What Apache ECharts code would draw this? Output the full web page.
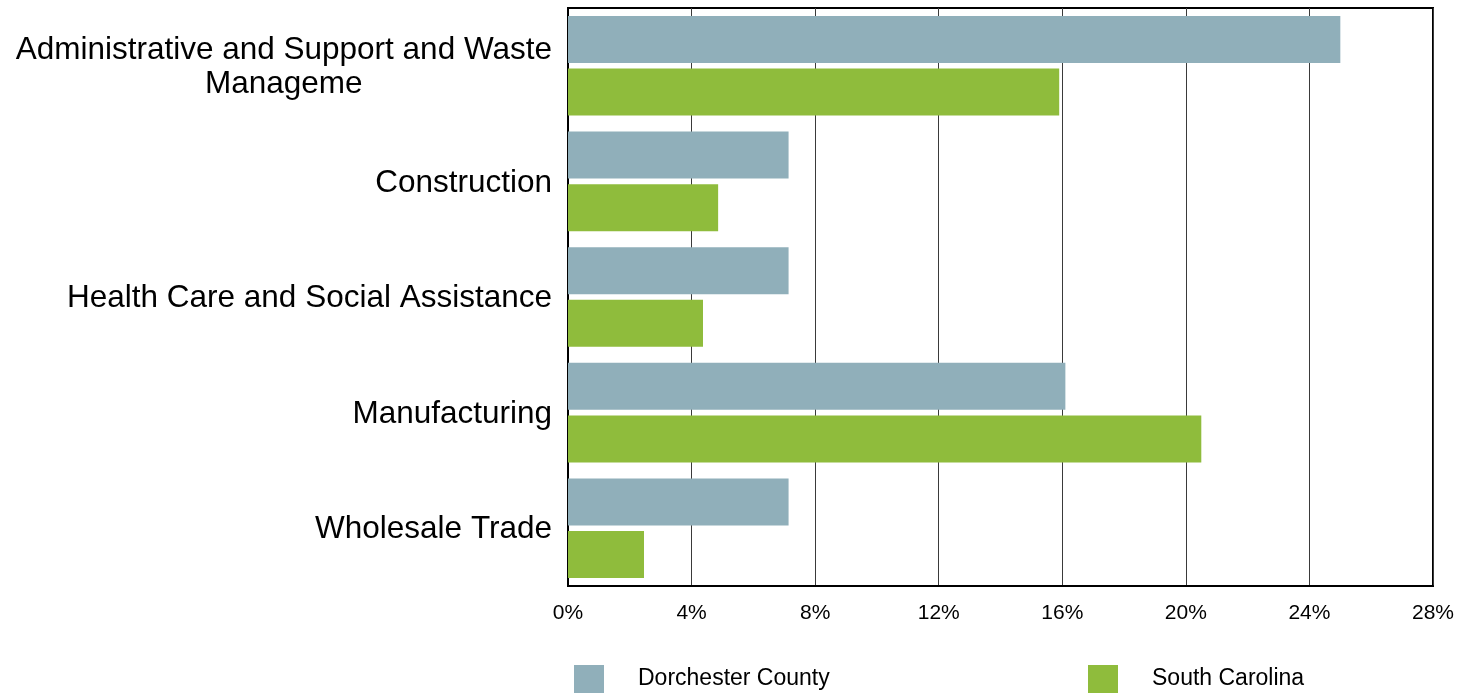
<!DOCTYPE html>
<html>
<head>
<meta charset="utf-8">
<script src="https://cdn.jsdelivr.net/npm/echarts@6/dist/echarts.min.js"></script>
<style>html,body{margin:0;padding:0;background:#fff}#c{width:1473px;height:695px}</style>
</head>
<body>
<div id="c"></div>
<script>
const categories = ['Administrative and Support and Waste\nManageme', 'Construction', 'Health Care and Social Assistance', 'Manufacturing', 'Wholesale Trade'];
const dorchester = [25.0, 7.14, 7.14, 16.1, 7.14];
const southCarolina = [15.9, 4.86, 4.37, 20.5, 2.46];
const seriesNames = ['Dorchester County', 'South Carolina'];
const xTicks = { min: 0, max: 28, interval: 4 };

const chart = echarts.init(document.getElementById('c'), null, { renderer: 'canvas' });
const font = '"Liberation Sans", Arial, sans-serif';
chart.setOption({
  animation: false,
  backgroundColor: '#fff',
  grid: { left: 568, right: 40, top: 8, bottom: 109, show: true, borderColor: '#000', borderWidth: 2, containLabel: false },
  legend: [
    { data: [seriesNames[0]], left: 569, top: 660, itemWidth: 30, itemHeight: 28, icon: 'rect',
      textStyle: { fontFamily: font, fontSize: 23, color: '#000', padding: [7, 0, 0, 29] } },
    { data: [seriesNames[1]], left: 1083, top: 660, itemWidth: 30, itemHeight: 28, icon: 'rect',
      textStyle: { fontFamily: font, fontSize: 23, color: '#000', padding: [7, 0, 0, 29] } }
  ],
  xAxis: {
    type: 'value', min: xTicks.min, max: xTicks.max, interval: xTicks.interval,
    axisLine: { show: true, lineStyle: { color: '#000', width: 2 } },
    axisTick: { show: false },
    axisLabel: { formatter: '{value}%', fontFamily: font, fontSize: 21, color: '#000', margin: 17 },
    splitLine: { show: true, lineStyle: { color: '#3a3a3a', width: 1 } }
  },
  yAxis: {
    type: 'category', data: categories, inverse: true,
    axisLine: { show: true, lineStyle: { color: '#000', width: 2 } },
    axisTick: { show: false },
    axisLabel: {
      fontFamily: font, fontSize: 31.5, color: '#000', margin: 16, lineHeight: 34,
      formatter: function (v) { return v.split('\n').map(s => '{c|' + s + '}').join('\n'); },
      rich: { c: { align: 'center', fontFamily: font, fontSize: 31.5, color: '#000', lineHeight: 34, padding: [3, 0, 0, 0] } }
    }
  },
  series: [
    { name: seriesNames[0], type: 'bar', data: dorchester, barWidth: 47, barGap: '12%', itemStyle: { color: '#90AFBA' } },
    { name: seriesNames[1], type: 'bar', data: southCarolina, barWidth: 47, barGap: '12%', itemStyle: { color: '#8FBC3C' } }
  ]
});
</script>
</body>
</html>
